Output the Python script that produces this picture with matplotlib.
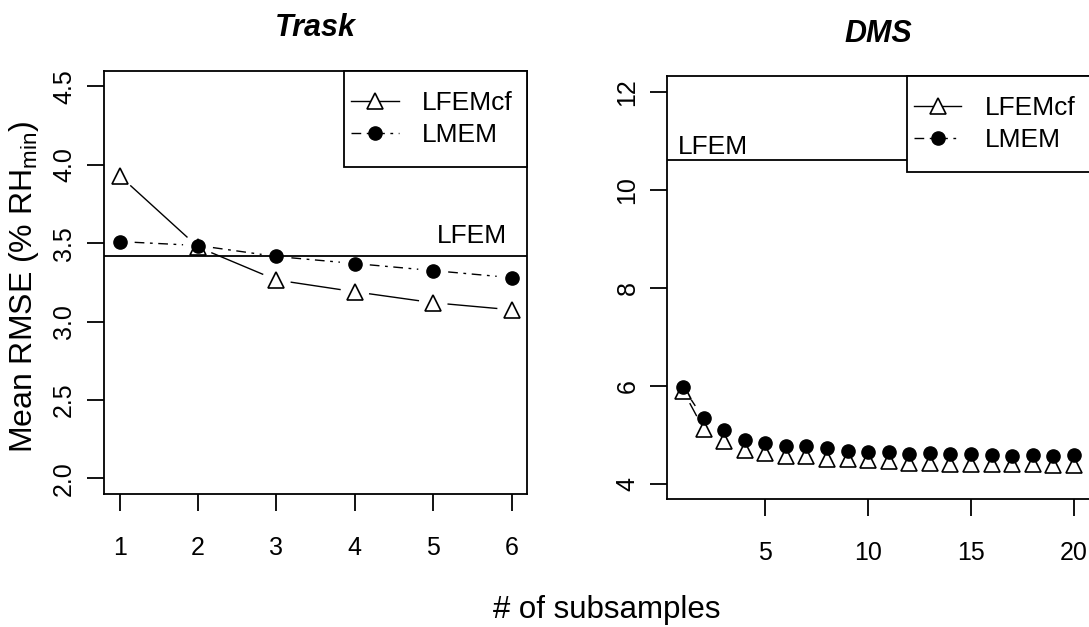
import numpy as np
import matplotlib
matplotlib.use("Agg")
import matplotlib.pyplot as plt
from matplotlib.lines import Line2D
from matplotlib.patches import Rectangle

plt.rcParams['font.family'] = ['Liberation Sans', 'DejaVu Sans']
plt.rcParams['mathtext.fontset'] = 'custom'
plt.rcParams['mathtext.rm'] = 'Liberation Sans'
plt.rcParams['mathtext.it'] = 'Liberation Sans:italic'

# data
trask_x = [1, 2, 3, 4, 5, 6]
trask_lfemcf = [3.93, 3.475, 3.265, 3.19, 3.12, 3.075]
trask_lmem = [3.51, 3.485, 3.415, 3.37, 3.325, 3.28]
trask_lfem = 3.42

dms_x = list(range(1, 21))
dms_lfemcf = [5.90, 5.12, 4.86, 4.69, 4.63, 4.57, 4.57, 4.50, 4.50, 4.48,
              4.47, 4.42, 4.42, 4.41, 4.41, 4.40, 4.40, 4.40, 4.39, 4.37]
dms_lmem = [5.97, 5.33, 5.10, 4.90, 4.82, 4.77, 4.76, 4.72, 4.67, 4.65,
            4.64, 4.61, 4.62, 4.60, 4.60, 4.58, 4.57, 4.58, 4.57, 4.58]
dms_lfem = 10.61

series_names = ['LFEMcf', 'LMEM']

W, H = 1089, 627
fig = plt.figure(figsize=(W / 100, H / 100), dpi=100)

LW = 1.3
dotdash = (0, (7, 4, 2, 4))
tri_style = dict(marker='^', markersize=12, markerfacecolor='white',
                 markeredgecolor='black', markeredgewidth=1.2, linestyle='none')
dot_style = dict(marker='o', markersize=9.5, markerfacecolor='black',
                 markeredgecolor='black', linestyle='none')


def px_axes(left, top, right, bottom):
    return fig.add_axes([left / W, 1 - bottom / H, (right - left) / W, (bottom - top) / H])


def gapped(ax, x, y, gap, **kw):
    # R type="b": segments that stop short of the points
    pts = ax.transData.transform(np.column_stack([x, y]))
    inv = ax.transData.inverted()
    for p, q in zip(pts[:-1], pts[1:]):
        d = q - p
        L = np.hypot(*d)
        if L <= 2 * gap:
            continue
        u = d / L
        seg = inv.transform(np.array([p + u * gap, q - u * gap]))
        ax.plot(seg[:, 0], seg[:, 1], color='black', lw=1.0, zorder=2, **kw)


def style_axes(ax):
    for s in ax.spines.values():
        s.set_linewidth(LW)
    ax.tick_params(direction='out', length=12, width=LW, labelsize=18, colors='black')
    ax.tick_params(axis='x', pad=18)
    ax.tick_params(axis='y', pad=8, labelrotation=90)
    for lbl in ax.get_yticklabels():
        lbl.set_va('center')


def panel(ax, x, lfemcf, lmem, lfem, title, lfem_x, lfem_off):
    ax.axhline(lfem, color='black', lw=LW, zorder=1)
    ax.annotate('LFEM', (lfem_x, lfem), xytext=(0, lfem_off), textcoords='offset points',
                ha='center', va='center', fontsize=19)
    gapped(ax, x, lfemcf, 15, linestyle='-')
    gapped(ax, x, lmem, 15, linestyle=dotdash)
    ax.plot(x, lfemcf, zorder=3, **tri_style)
    ax.plot(x, lmem, zorder=3, **dot_style)
    ax.add_patch(Rectangle((0.568, 0.773), 0.432, 0.227, transform=ax.transAxes,
                           facecolor='white', edgecolor='black', lw=LW, zorder=4,
                           clip_on=False))
    handles = [Line2D([], [], color='black', lw=1.0, **{k: v for k, v in tri_style.items() if k != 'linestyle'}),
               Line2D([], [], color='black', lw=1.0, linestyle=dotdash,
                      **{k: v for k, v in dot_style.items() if k != 'linestyle'})]
    leg = ax.legend(handles, series_names, loc='center left', bbox_to_anchor=(0.568, 0.886),
                    frameon=False, fontsize=19, handlelength=1.8, handletextpad=0.9,
                    borderpad=0.25, borderaxespad=0, labelspacing=0.3, numpoints=1)
    leg.set_zorder(5)
    ax.text(0.5, 1.10, title, transform=ax.transAxes, ha='center', va='center',
            fontsize=22, fontweight='bold', fontstyle='italic')
    style_axes(ax)


# Trask
ax1 = px_axes(104, 70.7, 527.3, 494)
ax1.set_xlim(0.8, 6.2)
ax1.set_ylim(1.9, 4.6)
ax1.set_xticks(trask_x)
ax1.set_yticks([2.0, 2.5, 3.0, 3.5, 4.0, 4.5])
ax1.set_yticklabels(['2.0', '2.5', '3.0', '3.5', '4.0', '4.5'])
panel(ax1, trask_x, trask_lfemcf, trask_lmem, trask_lfem, 'Trask', 5.5, 14)

# DMS
ax2 = px_axes(667.3, 76, 1089.6, 499.3)
ax2.set_xlim(0.24, 20.76)
ax2.set_ylim(3.68, 12.32)
ax2.set_xticks([5, 10, 15, 20])
ax2.set_yticks([4, 6, 8, 10, 12])
panel(ax2, dms_x, dms_lfemcf, dms_lmem, dms_lfem, 'DMS', 2.47, 9.5)
ax2.spines['right'].set_visible(False)

fig.text(607 / W, 1 - 618 / H, '# of subsamples', ha='center', va='baseline', fontsize=22.5)
fig.text(24 / W, 1 - 287 / H, r'Mean RMSE (% RH$_{\mathrm{min}}$)', rotation=90,
         ha='center', va='center', fontsize=23)

fig.savefig('out.png', dpi=100)
